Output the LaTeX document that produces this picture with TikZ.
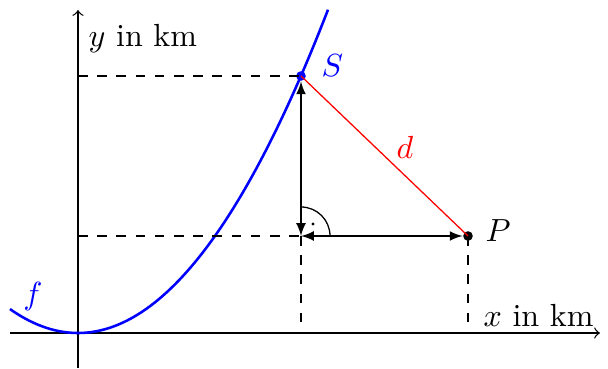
\documentclass[tikz,border=0pt]{standalone}
\usetikzlibrary{arrows}
\begin{document}
\begin{tikzpicture}[x=0.3125pt,y=0.3125pt,
  axis/.style={->,black,line width=0.4pt},
  helper/.style={dashed,black,line width=0.4pt},
  dist/.style={latex-latex,black,line width=0.4pt},
  pointdot/.style={circle,fill,inner sep=0pt,minimum size=3pt}]
\useasboundingbox (0,0) rectangle (608,369);
% coordinates
\coordinate (O) at (78,36);
\coordinate (xl) at (10,36);
\coordinate (xr) at (600,36);
\coordinate (yb) at (78,1);
\coordinate (yt) at (78,359);
\coordinate (F) at (301,133);
\coordinate (Sy) at (78,293);
\coordinate (Fy) at (78,133);
\coordinate (Fx) at (301,36);
\coordinate (Px) at (468,36);
% axes
\draw[axis] (xl) -- (xr);
\draw[axis] (yb) -- (yt);
\node[anchor=base west,inner sep=0pt] (ylab) at (88,322) {$y$ in km};
\node[anchor=base west,inner sep=0pt] (xlab) at (483,42) {$x$ in km};
% parabola
\draw[blue,line width=0.8pt] plot[domain=10:328,samples=120,smooth] (\x,{36+0.005168*(\x-78)*(\x-78)});
\node[blue] (flab) at (33,72) {$f$};
% points
\node[pointdot,blue] (S) at (301,293) {};
\node[pointdot,black] (P) at (468,133) {};
\node[blue,anchor=base west,inner sep=0pt] (Slab) at (321,292) {$S$};
\node[anchor=base west,inner sep=0pt] (Plab) at (485,127) {$P$};
% dashed helpers
\draw[helper] (Sy) -- (S.center);
\draw[helper] (Fy) -- (F);
\draw[helper] (F) -- (Fx);
\draw[helper] (P.center) -- (Px);
% distance
\draw[red,line width=0.4pt] (S.center) -- (P.center);
\node[red] (d) at (405,222) {$d$};
\draw[dist] (F) -- (S);
\draw[dist] (F) -- (P);
% right angle
\draw[line width=0.4pt] ([xshift=9.0625pt]F) arc[start angle=0,end angle=90,radius=9.0625pt];
\fill (313,145) circle[radius=0.5pt];
\end{tikzpicture}
\end{document}
